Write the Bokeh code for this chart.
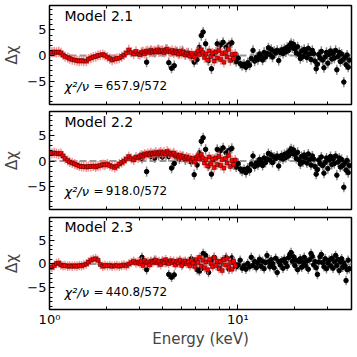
import numpy as np
from bokeh.plotting import figure
from bokeh.layouts import column
from bokeh.models import FixedTicker, LogAxis, Span, Label, Range1d
from bokeh.embed import file_html
from bokeh.resources import INLINE

# ---------------- data ----------------
red_energy = [
    1.03, 1.06, 1.09, 1.12, 1.15, 1.18, 1.21, 1.25, 1.28, 1.32,
    1.36, 1.40, 1.44, 1.48, 1.52, 1.57, 1.61, 1.66, 1.71, 1.76,
    1.81, 1.86, 1.92, 1.97, 2.03, 2.09, 2.15, 2.22, 2.28, 2.35,
    2.42, 2.49, 2.56, 2.64, 2.72, 2.80, 2.88, 2.96,
    3.02, 3.08, 3.14, 3.20, 3.26, 3.33, 3.40, 3.46, 3.53, 3.60,
    3.67, 3.75, 3.82, 3.90, 3.98, 4.06, 4.14, 4.22, 4.30, 4.39,
    4.48, 4.57, 4.66, 4.75, 4.85, 4.94, 5.04, 5.14, 5.25, 5.35,
    5.46, 5.57, 5.68, 5.79, 5.91, 6.03, 6.15, 6.27, 6.40, 6.52,
    6.65, 6.79, 6.92, 7.06, 7.20, 7.35, 7.50, 7.65, 7.80, 7.95,
    8.11, 8.27, 8.44, 8.61, 8.78, 8.96, 9.14, 9.32, 9.50, 9.70]

red_resid_21 = [
    0.6, 0.7, 0.6, 0.7, 0.5, 0.1, -0.2, -0.4, -0.6, -0.8,
    -0.9, -1.0, -1.1, -1.0, -1.1, -1.1, -0.7, -0.5, -0.3, -0.2,
    0.0, 0.1, 0.2, 0.0, -0.3, -0.6, -0.9, -0.7, -0.6, -0.5,
    -0.2, 0.1, 0.5, 1.1, 0.6, 0.3, 0.8, 0.3,
    0.2, 0.6, 0.7, 0.4, 0.8, 0.9, 0.6, 1.0, 0.7, 0.9,
    0.8, 1.1, 0.7, 0.9, 1.0, 0.6, 0.9, 1.2, 0.8, 0.7,
    1.0, 0.5, 0.9, 0.6, 0.3, 0.8, 0.4, 0.6, 0.1, 0.5,
    0.2, -0.1, 0.4, 0.0, -0.3, 0.5, 0.8, 0.2, 1.1, 0.6,
    -0.4, 0.3, -0.9, 0.9, -0.2, 0.5, -1.1, 0.7, -0.5, 1.0,
    -0.8, 0.4, -1.3, 0.6, -0.3, 1.2, -1.0, 0.2, -0.6, 0.3]

red_resid_22 = [
    1.5, 1.6, 1.5, 1.4, 1.5, 1.0, 0.5, 0.1, -0.2, -0.4,
    -0.6, -0.8, -1.0, -1.1, -1.1, -1.2, -1.1, -1.1, -1.0, -1.2,
    -1.0, -0.9, -0.7, -0.8, -0.6, -0.9, -1.1, -1.3, -1.0, -0.6,
    -0.3, 0.0, 0.4, 0.9, 0.5, 0.2, 0.8, 0.6,
    0.9, 1.2, 1.0, 1.4, 1.2, 1.5, 1.3, 1.6, 1.4, 1.5,
    1.7, 1.4, 1.6, 1.8, 1.5, 1.7, 1.4, 1.9, 1.6, 1.5,
    1.3, 1.6, 1.0, 1.2, 0.8, 1.1, 0.7, 0.9, 0.5, 0.8,
    0.4, 0.6, 0.1, 0.5, -0.2, 0.7, 1.0, 0.4, 1.3, 0.6,
    -0.4, 0.3, -1.0, 0.8, -0.5, 0.4, -1.3, 0.6, -0.7, 0.9,
    -0.9, 0.3, -1.4, 0.5, -0.4, 1.1, -1.1, 0.1, -0.7, 0.2]

red_resid_23 = [
    -0.7, -0.3, 0.1, 0.2, -0.2, -0.4, -0.3, -0.5, -0.4, -0.5,
    -0.4, -0.5, -0.3, -0.4, -0.2, 0.0, 0.4, 0.8, 1.0, 1.1,
    0.8, -0.1, -0.5, -0.3, -0.4, -0.3, -0.5, -0.4, -0.3, -0.5,
    -0.3, -0.2, -0.4, 0.0, 0.3, 0.6, 0.2, 0.4,
    0.1, 0.5, -0.3, 0.7, 0.2, 0.4, -0.2, 0.6, 0.3, 0.5,
    0.8, 0.2, 0.5, -0.1, 0.6, 0.3, 0.9, 0.4, 0.1, 0.7,
    0.3, 0.6, -0.2, 0.5, 0.2, 0.8, -0.3, 0.4, 0.6, 0.1,
    0.5, -0.4, 0.7, 0.2, -0.6, 0.9, 0.3, 1.4, -0.5, 0.8,
    -0.8, 0.4, -1.2, 1.0, 0.1, -0.6, 1.3, -0.3, 0.6, -1.0,
    0.5, -1.4, 0.9, -0.2, 1.1, -0.7, 0.3, -1.1, 0.6, -0.4]

black_energy = [
    3.10, 3.28, 3.45, 3.62, 3.80, 3.98, 4.16, 4.30, 4.45, 4.60,
    4.75, 4.90, 5.08, 5.27, 5.46, 5.66, 5.87, 6.08, 6.25, 6.40,
    6.55, 6.75, 7.00, 7.25, 7.50, 7.78, 8.06, 8.36, 8.67, 8.98,
    9.30, 9.55, 9.80, 10.05, 10.30, 10.55, 10.80, 11.05, 11.30, 11.55,
    11.80, 12.05, 12.30, 12.55, 12.80, 13.05, 13.30, 13.55, 13.80, 14.05,
    14.30, 14.55, 14.80, 15.05, 15.30, 15.60, 15.90, 16.20, 16.50, 16.80,
    17.10, 17.40, 17.70, 18.00, 18.30, 18.60, 18.90, 19.20, 19.50, 19.80,
    20.10, 20.45, 20.80, 21.15, 21.50, 21.85, 22.20, 22.55, 22.90, 23.30,
    23.70, 24.10, 24.50, 24.90, 25.30, 25.70, 26.10, 26.50, 26.90, 27.35,
    27.80, 28.25, 28.70, 29.15, 29.60, 30.10, 30.60, 31.10, 31.60, 32.10,
    32.60, 33.10, 33.60, 34.10, 34.60, 35.10, 35.60, 36.10, 36.60, 37.10,
    37.60, 38.10, 38.60, 39.10]

black_resid_21 = [
    0.5, -1.3, 0.9, 0.6, 1.1, 0.8, 1.2, -1.4, -2.5, -2.0,
    0.7, 0.4, 0.9, 0.2, 0.5, -0.2, -1.3, -0.8, 1.6, 3.9,
    4.6, 2.3, -1.0, -2.6, 0.3, 2.3, 2.0, 2.6, 1.6, 2.1,
    2.5, -0.8, -1.2, -0.5, -1.6, -2.0, -1.7, -2.3, -1.4, -1.9,
    -0.6, 1.0, -1.1, -0.4, -0.8, 0.3, -0.2, -0.9, 0.6, -0.3,
    0.4, 1.5, 0.2, 1.2, -0.3, 0.8, 0.5, 1.0, -1.0, 0.6,
    1.1, 0.4, 1.3, 0.7, 1.6, 1.0, 2.0, 2.4, 1.5, 2.2,
    1.3, 0.5, 1.7, 0.2, -0.6, 0.9, -0.2, 1.2, 0.6, -0.4,
    1.4, 0.3, -0.8, 1.0, 0.4, -1.1, -2.6, -1.7, 0.2, -0.5,
    0.8, -0.9, -2.4, -0.3, 0.6, -1.5, 0.2, 0.9, -0.7, 0.4,
    -0.5, 1.0, -2.8, -0.2, 0.6, -1.2, 0.3, -0.9, -5.2, -0.4,
    -1.8, 0.1, -2.3, -0.9]

black_resid_22 = [
    0.5, -2.1, 0.9, 0.6, 1.1, 0.8, 1.2, 0.9, -1.4, -0.5,
    0.7, 0.4, 0.9, 0.2, 0.5, -0.2, -2.7, -0.8, 1.6, 3.9,
    4.6, 2.3, -1.0, -2.6, 0.3, 2.3, 2.0, 2.6, 1.6, 2.1,
    2.5, -0.8, -1.2, -0.5, -1.6, -2.0, -1.7, -2.3, -1.4, -1.9,
    -0.6, 1.0, -1.1, -0.4, -0.8, 0.3, -0.2, -0.9, 0.6, -0.3,
    0.4, 1.5, 0.2, 1.2, -0.3, 0.8, 0.5, 1.0, -1.0, 0.6,
    1.1, 0.4, 1.3, 0.7, 1.6, 1.0, 2.0, 2.4, 1.5, 2.2,
    1.3, 0.5, 1.7, 0.2, -0.6, 0.9, -0.2, 1.2, 0.6, -0.4,
    1.4, 0.3, -0.8, 1.0, 0.4, -1.1, -2.6, -1.7, 0.2, -0.5,
    0.8, -0.9, -2.4, -0.3, 0.6, -1.5, 0.2, 0.9, -0.7, 0.4,
    -0.5, 1.0, -2.8, -0.2, 0.6, -1.2, 0.3, -0.9, -5.2, -0.4,
    -1.8, 0.1, -2.3, -0.9]

black_resid_23 = [
    1.4, -1.2, 0.4, 0.8, 0.2, 0.6, 0.3, -2.2, -2.8, -2.3,
    0.3, 0.6, -0.1, 0.4, 0.2, 1.1, 0.5, -1.2, -1.5, -1.0,
    2.2, 1.8, -1.8, 0.6, 1.4, 0.3, -0.4, 0.9, 1.4, -1.1,
    1.3, 0.2, -0.6, -0.2, 0.8, -0.9, -0.4, -1.1, 0.1, -0.6,
    1.4, -0.3, 0.5, -0.8, 0.2, 1.0, -0.5, 0.6, -1.0, 0.3,
    1.8, 0.4, -0.6, 0.9, 0.1, -0.8, 1.2, -1.8, 0.5, -0.2,
    0.7, -0.9, 1.0, 0.2, -0.5, 1.3, 2.0, 2.4, 0.6, 1.5,
    -0.3, 0.8, -1.2, 0.5, 1.1, -0.7, 0.3, 1.4, -0.4, 0.6,
    -1.1, 0.9, 2.2, 1.6, -0.2, 0.5, -0.8, -2.2, 0.4, 1.5,
    2.0, 0.3, -0.6, 1.1, -1.0, 0.2, 0.8, -0.4, 1.2, -0.9,
    0.5, 1.8, -0.3, 0.9, -1.4, 0.4, 1.1, -0.7, 0.2, -0.4,
    -3.5, -1.2, 0.8, -1.0]

model_names = ["Model 2.1", "Model 2.2", "Model 2.3"]
chi_symbol = "χ²/ν"
chi_values = ["=\u2009657.9/572", "=\u2009918.0/572", "=\u2009440.8/572"]
x_major_ticks = [1, 10]
x_minor_ticks = [2, 3, 4, 5, 6, 7, 8, 9, 20, 30, 40]
x_tick_labels = {1: "10⁰", 10: "10¹"}
y_major_ticks = [-5, 0, 5]
y_minor_ticks = [-9, -8, -7, -6, -4, -3, -2, -1, 1, 2, 3, 4, 6, 7, 8, 9]
y_tick_labels = {-5: "\u22125", 0: "0", 5: "5"}

FONT = "DejaVu Sans"
RESID_ERR = 1.0

# panel geometry: (height, top border, bottom border)
PANEL_GEOM = [(108, 5, 4), (105, 3, 4), (137, 4, 35)]


def style_axis(ax, ticker, show_labels):
    ax.ticker = ticker
    ax.axis_line_color = None
    ax.major_tick_in = 5
    ax.major_tick_out = 0
    ax.minor_tick_in = 3
    ax.minor_tick_out = 0
    ax.major_tick_line_color = "black"
    ax.minor_tick_line_color = "black"
    ax.major_tick_line_width = 1
    ax.minor_tick_line_width = 1
    ax.major_label_text_font = FONT
    ax.major_label_text_color = "black"
    ax.major_label_text_font_size = "13px"
    if show_labels:
        ax.major_label_standoff = 3
    else:
        ax.major_label_text_font_size = "1px"
        ax.major_label_text_alpha = 0.0
        ax.major_label_standoff = 0


def make_panel(idx, red_y, black_y, bottom):
    h, bt, bb = PANEL_GEOM[idx]
    p = figure(x_axis_type="log", x_range=Range1d(1, 40.2), y_range=Range1d(-9.6, 9.8),
               width=354, height=h,
               min_border_left=45, min_border_right=3, min_border_top=bt,
               min_border_bottom=bb,
               output_backend="svg", toolbar_location=None)
    p.background_fill_color = "white"
    p.border_fill_color = "white"
    p.xgrid.visible = False
    p.ygrid.visible = False
    p.outline_line_color = "black"
    p.outline_line_width = 1.5
    p.outline_line_alpha = 1.0

    xt = FixedTicker(ticks=x_major_ticks, minor_ticks=x_minor_ticks)
    yt = FixedTicker(ticks=y_major_ticks, minor_ticks=y_minor_ticks)

    xa = p.xaxis[0]
    style_axis(xa, xt, bottom)
    if bottom:
        xa.major_label_standoff = 2
        xa.major_label_overrides = x_tick_labels
        xa.axis_label = "Energy (keV)"
        xa.axis_label_text_font = FONT
        xa.axis_label_text_font_size = "15px"
        xa.axis_label_text_font_style = "normal"
        xa.axis_label_standoff = 0

    top = LogAxis()
    style_axis(top, FixedTicker(ticks=x_major_ticks, minor_ticks=x_minor_ticks), False)
    p.add_layout(top, "above")

    ya = p.yaxis[0]
    style_axis(ya, yt, True)
    ya.major_label_overrides = y_tick_labels
    ya.axis_label = "Δχ"
    ya.axis_label_text_font = FONT
    ya.axis_label_text_font_size = "15px"
    ya.axis_label_text_font_style = "normal"
    ya.axis_label_standoff = 3

    p.add_layout(Span(location=0, dimension="width", line_color="#808080",
                      line_dash="7 3", line_width=2, line_alpha=0.8, level="underlay"))

    bx = np.array(black_energy)
    by = np.array(black_y)
    p.segment(x0=bx, y0=by - RESID_ERR, x1=bx, y1=by + RESID_ERR,
              line_color="#8a8a8a", line_width=1.5)
    p.scatter(bx, by, marker="circle", size=4.5, fill_color="black", line_color="black")

    rx = np.array(red_energy)
    ry = np.array(red_y)
    p.segment(x0=rx, y0=ry - RESID_ERR, x1=rx, y1=ry + RESID_ERR,
              line_color="#ff7070", line_width=1.5, line_alpha=0.8)
    p.scatter(rx, ry, marker="square", size=4, fill_color="#ff0000",
              line_color="#330000", line_width=0.5)

    p.add_layout(Label(x=1.2, y=7.7, text=model_names[idx], text_font=FONT,
                       text_font_size="14px", text_baseline="middle", text_color="black"))
    p.add_layout(Label(x=1.2, y=-6.0, text=chi_symbol, text_font=FONT,
                       text_font_size="13px", text_font_style="italic",
                       text_baseline="middle", text_color="black"))
    p.add_layout(Label(x=1.2, y=-6.0, x_offset=29, text=chi_values[idx], text_font=FONT,
                       text_font_size="12px", text_baseline="middle", text_color="black"))
    return p


p1 = make_panel(0, red_resid_21, black_resid_21, False)
p2 = make_panel(1, red_resid_22, black_resid_22, False)
p3 = make_panel(2, red_resid_23, black_resid_23, True)

layout = column(p1, p2, p3, spacing=0)
open("out.html", "w").write(file_html(layout, INLINE))
